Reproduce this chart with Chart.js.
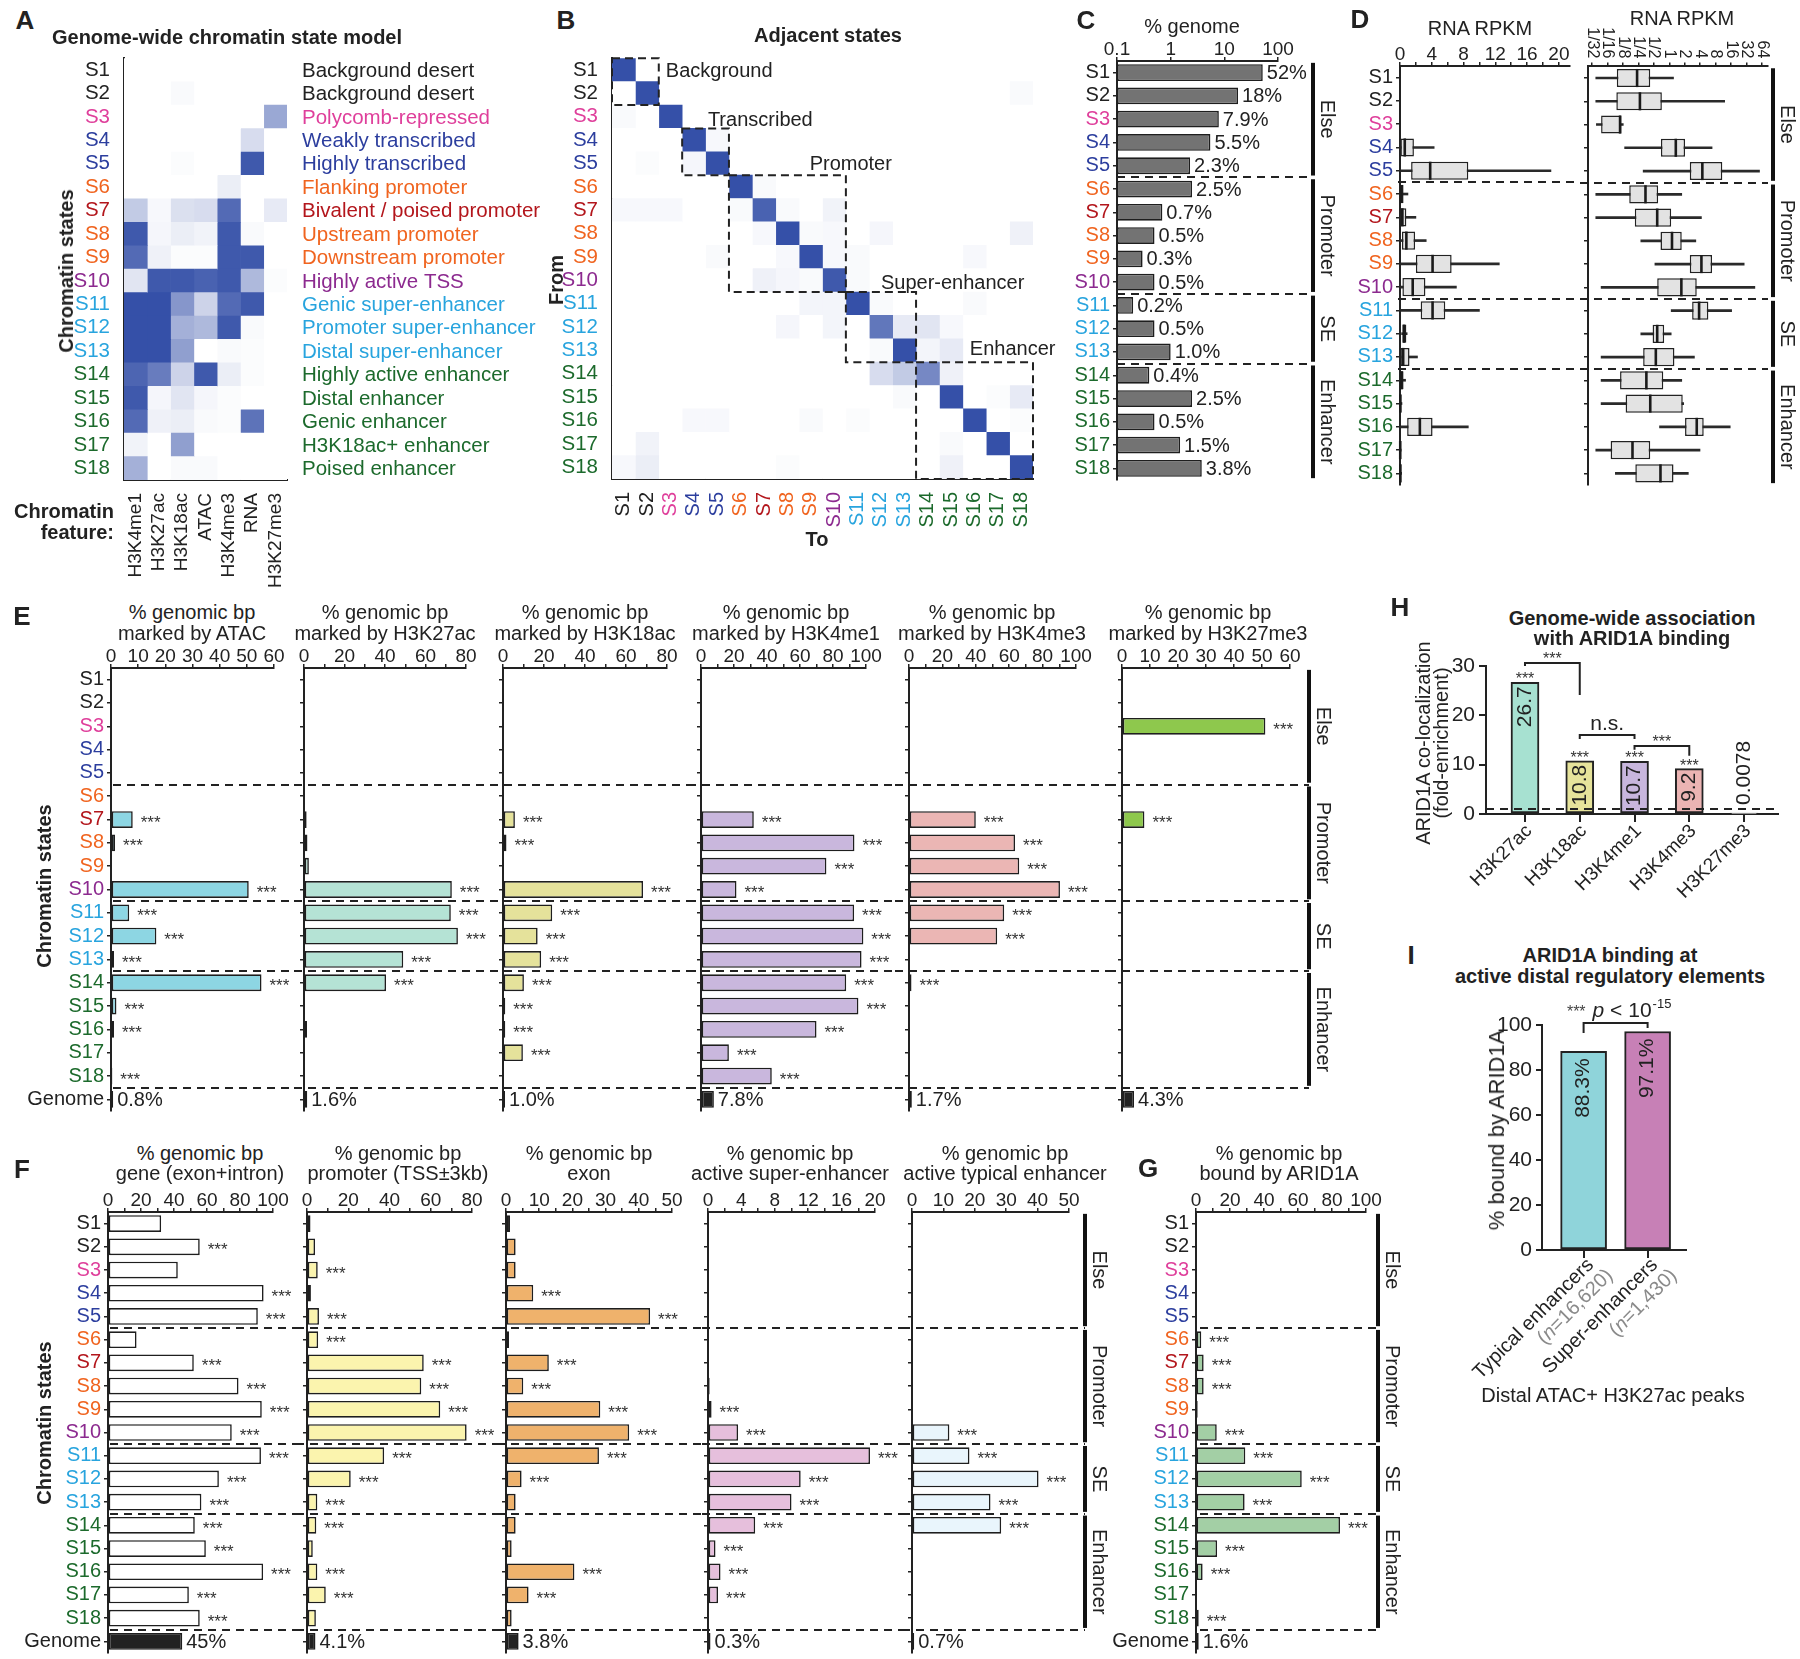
<!DOCTYPE html>
<html><head><meta charset="utf-8">
<script src="https://cdn.jsdelivr.net/npm/chart.js@4.4.1/dist/chart.umd.min.js"></script>
<style>
html,body{margin:0;padding:0;background:#fff;}
#fig{position:relative;width:1800px;height:1659px;overflow:hidden;background:#fff;}
#fig canvas{position:absolute;}
</style></head><body><div id="fig"></div>
<script>
// ================= DATA =================
const states = ['S1','S2','S3','S4','S5','S6','S7','S8','S9','S10','S11','S12','S13','S14','S15','S16','S17','S18'];
const stateColors = ['#222','#222','#df3f9b','#2c3e9e','#2c3e9e','#f0641f','#b3161c','#f0641f','#f0641f','#8c2a8f','#28a4de','#28a4de','#28a4de','#1c6a2c','#1c6a2c','#1c6a2c','#1c6a2c','#1c6a2c'];
const stateNames = ['Background desert','Background desert','Polycomb-repressed','Weakly transcribed','Highly transcribed','Flanking promoter','Bivalent / poised promoter','Upstream promoter','Downstream promoter','Highly active TSS','Genic super-enhancer','Promoter super-enhancer','Distal super-enhancer','Highly active enhancer','Distal enhancer','Genic enhancer','H3K18ac+ enhancer','Poised enhancer'];
const groupNames = ['Else','Promoter','SE','Enhancer'];
const groupRows = [[0,4],[5,9],[10,12],[13,17]];

// A: emission heatmap (rows S1..S18, columns = features)
const featuresA = ['H3K4me1','H3K27ac','H3K18ac','ATAC','H3K4me3','RNA','H3K27me3'];
const emissionA = [
 [0,0,0,0,0,0,0],
 [0,0,0.03,0,0,0,0],
 [0,0,0,0,0,0,0.5],
 [0,0,0,0,0,0.2,0],
 [0,0,0.02,0,0,0.95,0],
 [0,0,0,0,0.1,0,0],
 [0.3,0.04,0.18,0.2,0.85,0,0.12],
 [0.95,0.05,0.1,0.07,0.95,0.03,0],
 [0.85,0.08,0.02,0.02,0.95,0.95,0],
 [0.15,0.95,0.95,0.9,0.95,0.4,0.02],
 [1,1,0.6,0.25,0.85,0.95,0],
 [1,1,0.45,0.4,0.95,0.03,0],
 [1,1,0.55,0,0.03,0.02,0],
 [0.88,0.75,0.25,0.95,0.1,0.02,0],
 [0.95,0.05,0.15,0.05,0.02,0,0],
 [0.85,0.08,0.1,0.03,0.02,0.8,0],
 [0.07,0,0.55,0,0,0,0],
 [0.45,0,0.03,0.03,0,0,0]
];

// B: transitions between adjacent states (from row -> to column)
const transitionB = [
 [1,0,0,0,0,0,0,0,0,0,0,0,0,0,0,0,0,0],
 [0,1,0,0,0,0,0,0,0,0,0,0,0,0,0,0,0,0.03],
 [0.03,0,1,0,0,0,0,0,0,0,0,0,0,0,0,0,0,0],
 [0,0,0,1,0.04,0,0,0,0,0,0,0,0,0,0,0,0,0],
 [0,0.02,0,0.05,1,0,0,0,0,0,0,0,0,0,0,0,0,0],
 [0,0,0,0,0,1,0.03,0,0,0,0,0,0,0,0,0,0,0],
 [0.04,0.04,0.04,0,0,0.03,0.9,0.03,0,0.07,0,0,0,0,0,0,0,0],
 [0,0,0,0,0,0,0.04,1,0.03,0.04,0,0.05,0,0,0,0,0,0.08],
 [0,0,0,0,0.03,0,0,0.04,1,0.04,0.03,0,0,0,0,0.04,0,0],
 [0,0,0,0,0,0,0.08,0.05,0.03,0.95,0.03,0,0,0,0,0,0,0],
 [0,0,0,0,0,0,0,0,0.06,0.06,1,0.03,0,0,0,0.03,0,0],
 [0,0,0,0,0,0,0,0.05,0,0.06,0,0.78,0.12,0.15,0.04,0,0,0],
 [0,0,0,0,0,0,0,0,0,0,0,0.03,1,0.06,0.12,0,0,0],
 [0,0,0,0,0,0,0,0,0,0,0,0.2,0.3,0.68,0.08,0,0,0],
 [0,0,0,0,0,0,0,0,0,0,0,0,0.03,0,1,0,0.02,0.12],
 [0,0,0,0.04,0.04,0,0,0,0.03,0,0.02,0,0,0,0,1,0,0.02],
 [0,0.07,0,0,0,0,0,0,0,0,0,0,0,0,0.03,0,1,0],
 [0.04,0.1,0,0,0,0,0,0.02,0,0,0,0,0,0,0.08,0,0,1]
];
const boxesB = [
 {name:'Background', r0:0, r1:2, lx:2.3, ly:0},
 {name:'Transcribed', r0:3, r1:5, lx:4.1, ly:2.1},
 {name:'Promoter', r0:5, r1:10, lx:8.45, ly:4.0},
 {name:'Super-enhancer', r0:10, r1:13, lx:11.5, ly:9.1},
 {name:'Enhancer', r0:13, r1:18, lx:15.3, ly:11.9}
];

// C: % genome per state
const genomePct = [52,18,7.9,5.5,2.3,2.5,0.7,0.5,0.3,0.5,0.2,0.5,1.0,0.4,2.5,0.5,1.5,3.8];
const genomeTicks = [0.1,1,10,100];

// D: RNA RPKM box stats [whiskerLow, q1, median, q3, whiskerHigh]
const rnaLinear = [null,null,null,
 [0,0.05,0.6,1.75,4.3],[0,1.4,3.8,8.6,19],[0,0.02,0.2,0.45,1.0],[0,0.05,0.3,0.8,2.0],[0,0.25,0.8,1.9,3.3],
 [0,2.0,4.1,6.5,12.5],[0,0.3,1.6,3.2,7.1],[0,2.6,4.1,5.7,10],[0.2,0.3,0.5,0.8,0.9],[0,0.05,0.4,1.2,2.2],
 [0,0.05,0.2,0.45,0.7],[0,0.02,0.05,0.15,0.25],[0,0.9,2.5,4.1,8.6],[0,0.01,0.03,0.08,0.15],[0,0.01,0.05,0.1,0.2]];
const rnaLog = [
 [0.037,0.095,0.236,0.426,1.21],[0.037,0.093,0.268,0.717,12.0],[0.038,0.047,0.11,0.117,0.127],
 [0.135,0.688,1.34,2.03,6.82],[0.31,2.51,4.41,10.8,57.3],[0.037,0.166,0.344,0.607,1.75],
 [0.037,0.213,0.582,1.09,4.23],[0.279,0.674,1.13,1.75,3.29],[0.525,2.51,4.23,6.82,28.8],
 [0.047,0.582,1.72,3.43,46.5],[1.09,2.79,3.81,5.78,16.4],[0.279,0.473,0.582,0.796,1.09],
 [0.047,0.31,0.547,1.26,3.09],[0.047,0.11,0.358,0.764,1.75],[0.047,0.141,0.426,1.83,1.91],
 [0.646,2.03,3.43,4.69,15.4],[0.037,0.072,0.192,0.426,3.97],[0.089,0.218,0.674,1.21,2.35]];
const rnaLinTicks = [0,2,4,6,8,10,12,14,16,18,20];
const rnaLinLabels = [0,4,8,12,16,20];
const rnaLogTicks = [1/32,1/16,1/8,1/4,1/2,1,2,4,8,16,32,64];
const rnaLogTickLabels = ['1/32','1/16','1/8','1/4','1/2','1','2','4','8','16','32','64'];

// E: % genomic bp marked by each mark (S1..S18), genome-wide value, significance
const atacPct  = [0,0,0,0,0,0,8.0,1.5,0,50.7,6.7,16.7,1.1,55.4,2.0,1.1,0,0.5];
const atacGenome = 0.8;
const atacSig  = [0,0,0,0,0,0,1,1,0,1,1,1,1,1,1,1,0,1];
const k27acPct = [0,0,0,0,0,0.3,1.3,1.7,2.4,73,72.5,76,49,40.5,0.2,1.5,0.2,0.1];
const k27acGenome = 1.6;
const k27acSig = [0,0,0,0,0,0,0,0,0,1,1,1,1,1,0,0,0,0];
const k18acPct = [0,0.5,0,0,0.3,0,5.8,1.7,0.5,68.3,24,16.9,18.6,10.2,1.1,1.1,9.7,0.3];
const k18acGenome = 1.0;
const k18acSig = [0,0,0,0,0,0,1,1,0,1,1,1,1,1,1,1,1,0];
const k4me1Pct = [0,0,0,0,0,0,32,93,76,21.5,92.8,98.4,97.3,88,95.4,70,16.9,42.9];
const k4me1Genome = 7.8;
const k4me1Sig = [0,0,0,0,0,0,1,1,1,1,1,1,1,1,1,1,1,1];
const k4me3Pct = [0,0,0,0,0,0,40,63.5,66,90.4,57,52.8,0,1.5,0,0,0,0];
const k4me3Genome = 1.7;
const k4me3Sig = [0,0,0,0,0,0,1,1,1,1,1,1,0,1,0,0,0,0];
const k27me3Pct = [0,0,51.2,0,0,0,8.0,0,0,0,0,0,0,0,0,0,0,0];
const k27me3Genome = 4.3;
const k27me3Sig = [0,0,1,0,0,0,1,0,0,0,0,0,0,0,0,0,0,0];

// F: % genomic bp in annotations
const genePct = [32.2,55.6,42.3,94.3,90.8,17.3,52,79.1,93.2,75,92.7,67.2,56.6,52.6,59.3,94,49,55.6];
const geneGenome = 45;
const geneSig = [0,1,0,1,1,0,1,1,1,1,1,1,1,1,1,1,1,1];
const promPct = [1.7,3.9,5.2,1.9,5.8,5.4,56.6,55.4,64.6,77.4,37.4,21.2,5.0,4.5,2.8,5.0,9.1,4.3];
const promGenome = 4.1;
const promSig = [0,0,1,0,1,1,1,1,1,1,1,1,1,1,0,1,1,0];
const exonPct = [1.2,2.9,2.9,8.2,43.4,0.9,12.9,5.2,28.4,37.1,28,4.7,2.9,2.9,1.7,20.6,6.8,1.7];
const exonGenome = 3.8;
const exonSig = [0,0,0,1,1,0,1,1,1,1,1,1,0,0,0,1,1,0];
const sePct = [0,0,0,0,0,0,0.1,0.2,0.43,3.6,19.4,11.1,10,5.65,0.9,1.5,1.2,0];
const seGenome = 0.3;
const seSig = [0,0,0,0,0,0,0,0,1,1,1,1,1,1,1,1,1,0];
const tePct = [0,0,0,0,0,0,0,0,0,11.9,18.3,40.3,25,28.4,0,0,0,0];
const teGenome = 0.7;
const teSig = [0,0,0,0,0,0,0,0,0,1,1,1,1,1,0,0,0,0];

// G: % genomic bp bound by ARID1A
const aridPct = [0,0,0,0,0,3.1,4.5,4.5,1.0,12.2,29,62.2,28.6,84.7,12.4,3.9,0,1.6];
const aridGenome = 1.6;
const aridSig = [0,0,0,0,0,1,1,1,0,1,1,1,1,1,1,1,0,1];

// H: ARID1A co-localization fold enrichment
const hCats = ['H3K27ac','H3K18ac','H3K4me1','H3K4me3','H3K27me3'];
const hVals = [26.7,10.8,10.7,9.2,0.0078];
const hSig = [1,1,1,1,0];
const hBrackets = [
 {a:0,b:1,top:30.6,la:30.0,lb:24.1,text:'***'},
 {a:1,b:2,top:16.0,la:15.2,lb:15.2,text:'n.s.'},
 {a:2,b:3,top:13.8,la:13.0,lb:11.8,text:'***'}
];

// I: ARID1A binding at distal elements
const iCats = ['Typical enhancers','Super-enhancers'];
const iN = ['16,620','1,430'];
const iVals = [88.3,97.1];
const iBracket = {top:100.9,left:96.4,right:98.7};

// ================= HELPERS =================
const FONT = "'Liberation Sans', Arial, Helvetica, sans-serif";
Chart.defaults.font.family = FONT;
Chart.defaults.font.size = 20;
Chart.defaults.color = '#222';
Chart.defaults.animation = false;
Chart.defaults.responsive = false;
Chart.defaults.maintainAspectRatio = false;
Chart.defaults.devicePixelRatio = 1;
Chart.defaults.events = [];
Chart.defaults.plugins.legend.display = false;
Chart.defaults.plugins.tooltip.enabled = false;

const fig = document.getElementById('fig');
function mkCanvas(x, y, w, h) {
  const c = document.createElement('canvas');
  c._x = Math.round(x); c._y = Math.round(y); c._w = Math.round(w); c._h = Math.round(h);
  c.width = c._w; c.height = c._h;
  c.style.left = c._x + 'px'; c.style.top = c._y + 'px';
  c.style.width = c._w + 'px'; c.style.height = c._h + 'px';
  fig.appendChild(c);
  return c;
}
// move / resize the canvas until the plot area sits where the reference has it
function fitArea(chart, want) {
  const cv = chart.canvas;
  for (let k = 0; k < 6; k++) {
    const a = chart.chartArea;
    const dl = cv._x + a.left - want.L, dr = want.R - (cv._x + a.right);
    const dt = cv._y + a.top - want.T, db = want.B - (cv._y + a.bottom);
    if (Math.max(Math.abs(dl), Math.abs(dr), Math.abs(dt), Math.abs(db)) < 0.8) return;
    cv._x = Math.round(cv._x - dl); cv._w = Math.round(cv._w + dl + dr);
    cv._y = Math.round(cv._y - dt); cv._h = Math.round(cv._h + dt + db);
    cv.style.left = cv._x + 'px'; cv.style.top = cv._y + 'px';
    chart.resize(cv._w, cv._h);
  }
}
function T(s, x, y, o = {}) {
  const d = document.createElement('div');
  d.textContent = s;
  const tx = o.align === 'left' ? '0' : (o.align === 'right' ? '-100%' : '-50%');
  d.style.cssText = `position:absolute;left:${x}px;top:${y}px;font:${o.bold ? 'bold' : 'normal'} ${o.size || 20}px ${FONT};color:${o.color || '#222'};white-space:nowrap;line-height:1;transform:translate(${tx},-50%)${o.rot ? ` rotate(${o.rot}deg)` : ''};`;
  fig.appendChild(d);
}
function heatColor(v) {
  const r = Math.round(255 + (53 - 255) * v), g = Math.round(255 + (80 - 255) * v), b = Math.round(255 + (168 - 255) * v);
  return `rgb(${r},${g},${b})`;
}
function drawStars(ctx, x, y, size, align) {
  ctx.save();
  ctx.font = `${size}px ${FONT}`; ctx.fillStyle = '#333';
  ctx.textAlign = align || 'left'; ctx.textBaseline = 'middle';
  ctx.fillText('***', x, y + 0.23 * size);
  ctx.restore();
}
const fmtPct = v => (v >= 10 ? String(v) : v.toFixed(1)) + '%';

// ---------- heatmap (stacked unit bars coloured by value) ----------
function heatmap(o) {
  const yw = o.L - o.cx, pt = o.T - o.cy, pr = o.cx + o.cw - o.R, xb = o.cy + o.ch - o.B;
  const cv = mkCanvas(o.cx, o.cy, o.cw, o.ch);
  const datasets = o.cols.map((c, j) => ({
    data: o.rows.map(() => 1),
    backgroundColor: o.rows.map((r, i) => heatColor(o.matrix[i][j])),
    borderWidth: 0, barPercentage: 1, categoryPercentage: 1, stack: 'h'
  }));
  const chart = new Chart(cv, {
    type: 'bar',
    data: { labels: o.rows, datasets },
    options: {
      indexAxis: 'y',
      layout: { padding: { left: 0, top: pt, right: pr, bottom: 0 } },
      scales: {
        x: {
          type: 'linear', stacked: true, min: 0, max: o.cols.length, position: 'bottom',
          afterBuildTicks: s => { s.ticks = o.cols.map((c, j) => ({ value: j + 0.5 })); },
          afterFit: s => { s.height = xb; },
          ticks: { autoSkip: false, minRotation: 90, maxRotation: 90, padding: 5, font: { size: o.colFont },
                   color: c => o.colColors[c.index], callback: (v, i) => o.cols[i] },
          grid: { display: false },
          border: { display: true, color: '#222', width: 2 }
        },
        y: {
          type: 'category', stacked: true,
          afterFit: s => { s.width = yw; },
          ticks: { autoSkip: false, padding: 6, font: { size: 20.5 }, color: c => stateColors[c.index] },
          grid: { display: false },
          border: { display: true, color: '#222', width: 2 }
        }
      }
    },
    plugins: [o.plugin]
  });
  fitArea(chart, { L: o.L, R: o.R, T: o.T, B: o.B });
  return chart;
}

// ---------- horizontal bar panel ----------
function decorate(chart, o) {
  const { ctx, scales: { x, y } } = chart;
  const ox = chart.canvas._x;
  const yp = i => y.getPixelForValue(i);
  ctx.save();
  if (o.seps) {
    ctx.setLineDash([8, 6]); ctx.lineWidth = 2; ctx.strokeStyle = '#222';
    o.seps.forEach(i => {
      const py = Math.round((yp(i) + yp(i + 1)) / 2);
      ctx.beginPath(); ctx.moveTo(o.sepX0 - ox, py); ctx.lineTo(o.sepX1 - ox, py); ctx.stroke();
    });
    ctx.setLineDash([]);
  }
  if (o.medians) {
    ctx.strokeStyle = '#1a1a1a'; ctx.lineWidth = 2.6;
    const h = o.rowH * 0.78 / 2;
    o.medians.forEach((m, i) => {
      if (m == null) return;
      const px = x.getPixelForValue(m);
      ctx.beginPath(); ctx.moveTo(px, yp(i) - h); ctx.lineTo(px, yp(i) + h); ctx.stroke();
    });
  }
  if (o.stars) o.stars.forEach((s, i) => { if (s) drawStars(ctx, x.getPixelForValue(o.data[i]) + 8, yp(i), 17); });
  if (o.valueText) {
    ctx.font = `20px ${FONT}`; ctx.fillStyle = '#222'; ctx.textAlign = 'left'; ctx.textBaseline = 'middle';
    o.valueText.forEach((t, i) => { if (t) ctx.fillText(t, x.getPixelForValue(o.data[i]) + 4, yp(i) + 1); });
  }
  if (o.groups) {
    groupRows.forEach(([r0, r1], k) => {
      const y0 = yp(r0) - o.rowH * 0.42, y1 = yp(r1) + o.rowH * 0.42;
      ctx.fillStyle = '#111';
      ctx.fillRect(o.groupX - ox - 2, y0, 4, y1 - y0);
      ctx.save();
      ctx.translate(o.groupX - ox + 14, (y0 + y1) / 2); ctx.rotate(Math.PI / 2);
      ctx.font = `20px ${FONT}`; ctx.fillStyle = '#222'; ctx.textAlign = 'center'; ctx.textBaseline = 'middle';
      ctx.fillText(groupNames[k], 0, 0);
      ctx.restore();
    });
  }
  if (o.topLabels) {
    ctx.font = `16px ${FONT}`; ctx.fillStyle = '#222'; ctx.textAlign = 'right'; ctx.textBaseline = 'middle';
    o.ticks.forEach((v, i) => {
      ctx.save(); ctx.translate(x.getPixelForValue(v), chart.chartArea.top - 8); ctx.rotate(Math.PI / 2);
      ctx.fillText(o.topLabels[i], 0, 0); ctx.restore();
    });
  }
  ctx.restore();
}
function hbars(o) {
  const xt = o.xt || 34, pb = 14;
  const n = o.labels.length;
  const cy = o.areaT - xt;
  const ch = Math.ceil(xt + n * o.rowH + pb);
  const yw = o.areaL - o.cx;
  const pr = o.cx + o.cw - o.areaR;
  const cv = mkCanvas(o.cx, cy, o.cw, ch);
  const labelSet = new Set(o.labelTicks || o.ticks);
  const datasets = o.datasets || [{
    data: o.data, backgroundColor: o.colors, borderColor: '#1e1e1e', borderWidth: 1.6,
    borderSkipped: false, barPercentage: o.barPct || 0.72, categoryPercentage: 1
  }];
  const chart = new Chart(cv, {
    type: 'bar',
    data: { labels: o.labels, datasets },
    options: {
      indexAxis: 'y',
      layout: { padding: { left: 0, right: pr, top: 0, bottom: pb } },
      scales: {
        x: {
          type: o.log ? 'logarithmic' : 'linear', position: 'top', min: o.xmin, max: o.xmax,
          afterBuildTicks: s => { s.ticks = o.ticks.map(v => ({ value: v })); },
          afterFit: s => { s.height = xt; },
          ticks: { autoSkip: false, maxRotation: 0, minRotation: 0, padding: -4, font: { size: 19 }, color: '#222',
                   callback: v => (o.topLabels ? '' : (labelSet.has(v) ? (o.fmt ? o.fmt(v) : String(v)) : '')) },
          grid: { display: true, drawOnChartArea: false, drawTicks: true, tickLength: 4, color: '#222', lineWidth: 1.5 },
          border: { display: true, color: '#222', width: 2 }
        },
        y: {
          type: 'category', position: 'left',
          afterFit: s => { s.width = yw; },
          ticks: { display: !!o.showY, autoSkip: false, padding: 3, font: { size: 20 }, color: c => (o.yColors ? o.yColors[c.index] : '#222') },
          grid: { display: true, drawOnChartArea: false, drawTicks: true, tickLength: 4, color: '#222', lineWidth: 1.5, offset: false },
          border: { display: true, color: '#222', width: 2 }
        }
      }
    },
    plugins: [{ id: 'deco', afterDatasetsDraw: chart => decorate(chart, o) }]
  });
  fitArea(chart, { L: o.areaL, R: o.areaR, T: o.areaT, B: o.areaT + n * o.rowH });
  return chart;
}

// ================= PANEL A =================
heatmap({
  cx: 0, cy: 40, cw: 590, ch: 550, L: 124, T: 58, R: 287, B: 480,
  rows: states, cols: featuresA, matrix: emissionA, colFont: 19, colColors: featuresA.map(() => '#222'),
  plugin: { id: 'descA', afterDraw(chart) {
    const { ctx, chartArea: a, scales: { y } } = chart;
    ctx.save(); ctx.font = `20.5px ${FONT}`; ctx.textAlign = 'left'; ctx.textBaseline = 'middle';
    stateNames.forEach((s, i) => { ctx.fillStyle = stateColors[i]; ctx.fillText(s, a.right + 15, y.getPixelForValue(i) + 1); });
    ctx.restore();
  } }
});

// ================= PANEL B =================
heatmap({
  cx: 540, cy: 40, cw: 535, ch: 530, L: 612, T: 58, R: 1033, B: 479,
  rows: states, cols: states, matrix: transitionB, colFont: 20, colColors: stateColors,
  plugin: { id: 'boxesB', afterDraw(chart) {
    const { ctx, scales: { x, y } } = chart;
    ctx.save(); ctx.setLineDash([8, 5]); ctx.lineWidth = 2; ctx.strokeStyle = '#222';
    boxesB.forEach(b => {
      const x0 = x.getPixelForValue(b.r0), x1 = x.getPixelForValue(b.r1);
      const y0 = y.getPixelForValue(b.r0 - 0.5), y1 = y.getPixelForValue(b.r1 - 0.5);
      ctx.strokeRect(x0, y0, x1 - x0, y1 - y0);
    });
    ctx.setLineDash([]);
    ctx.font = `20px ${FONT}`; ctx.fillStyle = '#222'; ctx.textAlign = 'left'; ctx.textBaseline = 'middle';
    boxesB.forEach(b => ctx.fillText(b.name, x.getPixelForValue(b.lx), y.getPixelForValue(b.ly) + 1));
    ctx.restore();
  } }
});

// ================= PANEL C =================
hbars({
  cx: 1065, cw: 280, areaL: 1117, areaR: 1278, areaT: 60.5, rowH: 23.3, xt: 40,
  labels: states, data: genomePct, colors: genomePct.map(() => '#737373'), showY: true, yColors: stateColors,
  log: true, xmin: 0.1, xmax: 100, ticks: genomeTicks, fmt: v => String(v),
  valueText: genomePct.map(fmtPct), seps: [4, 9, 12], sepX0: 1117, sepX1: 1312, groups: true, groupX: 1313
});

// ================= PANEL D =================
hbars({
  cx: 1340, cw: 240, areaL: 1400, areaR: 1570, areaT: 66.4, rowH: 23.25, xt: 46,
  labels: states, showY: true, yColors: stateColors,
  xmin: 0, xmax: 21.4, ticks: rnaLinTicks, labelTicks: rnaLinLabels,
  datasets: [
    { data: rnaLinear.map(b => b ? [b[0], b[4]] : null), backgroundColor: '#2a2a2a', borderWidth: 0, barThickness: 2, grouped: false, order: 2 },
    { data: rnaLinear.map(b => b ? [b[1], b[3]] : null), backgroundColor: '#e3e3e3', borderColor: '#222', borderWidth: 1.5, borderSkipped: false, barPercentage: 0.78, categoryPercentage: 1, grouped: false, order: 1 }
  ],
  medians: rnaLinear.map(b => b ? b[2] : null),
  seps: [4, 9, 12], sepX0: 1398, sepX1: 1580
});
hbars({
  cx: 1580, cw: 220, areaL: 1588, areaR: 1768, areaT: 66.4, rowH: 23.25, xt: 66.4,
  labels: states, showY: false,
  log: true, xmin: Math.pow(2, -5.26), xmax: Math.pow(2, 6.39), ticks: rnaLogTicks, topLabels: rnaLogTickLabels,
  datasets: [
    { data: rnaLog.map(b => [b[0], b[4]]), backgroundColor: '#2a2a2a', borderWidth: 0, barThickness: 2, grouped: false, order: 2 },
    { data: rnaLog.map(b => [b[1], b[3]]), backgroundColor: '#e3e3e3', borderColor: '#222', borderWidth: 1.5, borderSkipped: false, barPercentage: 0.78, categoryPercentage: 1, grouped: false, order: 1 }
  ],
  medians: rnaLog.map(b => b[2]),
  seps: [4, 9, 12], sepX0: 1580, sepX1: 1768, groups: true, groupX: 1773
});

// ================= PANELS E, F, G =================
const rowLabels = states.concat(['Genome']);
const rowColors = stateColors.concat(['#222']);
function markPanel(p) {
  const data = p.vals.concat([p.genome]);
  hbars({
    cx: p.cx, cw: p.cw, areaL: p.L, areaR: p.R, areaT: p.T, rowH: p.rowH,
    labels: rowLabels, data, colors: p.vals.map(() => p.color).concat(['#222']),
    showY: !!p.showY, yColors: rowColors,
    xmin: 0, xmax: p.max, ticks: p.ticks, labelTicks: p.lab,
    stars: p.sig, valueText: p.vals.map(() => null).concat([fmtPct(p.genome)]),
    seps: [4, 9, 12, 17], sepX0: p.sx0, sepX1: p.sx1, groups: !!p.groups, groupX: p.gx
  });
  T('% genomic bp', p.tc, p.ty1);
  T(p.title, p.tc, p.ty2);
}
const r10 = m => Array.from({ length: m / 10 + 1 }, (_, i) => i * 10);
const ET = 668.4, ER = 23.3;
markPanel({ title: 'marked by ATAC', vals: atacPct, genome: atacGenome, sig: atacSig, color: '#8dd6e3', max: 60, ticks: r10(60), lab: r10(60), L: 111, R: 274, cx: 10, cw: 284, showY: true, sx0: 113, sx1: 294, T: ET, rowH: ER, tc: 192, ty1: 612, ty2: 633 });
markPanel({ title: 'marked by H3K27ac', vals: k27acPct, genome: k27acGenome, sig: k27acSig, color: '#b5e3d5', max: 80, ticks: r10(80), lab: [0,20,40,60,80], L: 304, R: 466, cx: 294, cw: 196, sx0: 294, sx1: 490, T: ET, rowH: ER, tc: 385, ty1: 612, ty2: 633 });
markPanel({ title: 'marked by H3K18ac', vals: k18acPct, genome: k18acGenome, sig: k18acSig, color: '#e5e29b', max: 80, ticks: r10(80), lab: [0,20,40,60,80], L: 503, R: 667, cx: 490, cw: 198, sx0: 490, sx1: 688, T: ET, rowH: ER, tc: 585, ty1: 612, ty2: 633 });
markPanel({ title: 'marked by H3K4me1', vals: k4me1Pct, genome: k4me1Genome, sig: k4me1Sig, color: '#c9b7dd', max: 100, ticks: r10(100), lab: [0,20,40,60,80,100], L: 701, R: 866, cx: 688, cw: 207, sx0: 688, sx1: 895, T: ET, rowH: ER, tc: 786, ty1: 612, ty2: 633 });
markPanel({ title: 'marked by H3K4me3', vals: k4me3Pct, genome: k4me3Genome, sig: k4me3Sig, color: '#ebb6b4', max: 100, ticks: r10(100), lab: [0,20,40,60,80,100], L: 909, R: 1076, cx: 895, cw: 213, sx0: 895, sx1: 1108, T: ET, rowH: ER, tc: 992, ty1: 612, ty2: 633 });
markPanel({ title: 'marked by H3K27me3', vals: k27me3Pct, genome: k27me3Genome, sig: k27me3Sig, color: '#8ec84d', max: 60, ticks: r10(60), lab: r10(60), L: 1122, R: 1290, cx: 1108, cw: 237, sx0: 1108, sx1: 1309, groups: true, gx: 1309, T: ET, rowH: ER, tc: 1208, ty1: 612, ty2: 633 });

const FT = 1212.4, FR = 23.2;
markPanel({ title: 'gene (exon+intron)', vals: genePct, genome: geneGenome, sig: geneSig, color: '#ffffff', max: 100, ticks: r10(100), lab: [0,20,40,60,80,100], L: 108, R: 273, cx: 10, cw: 286, showY: true, sx0: 110, sx1: 296, T: FT, rowH: FR, tc: 200, ty1: 1153, ty2: 1173 });
markPanel({ title: 'promoter (TSS\u00b13kb)', vals: promPct, genome: promGenome, sig: promSig, color: '#fbf4ae', max: 80, ticks: r10(80), lab: [0,20,40,60,80], L: 307, R: 472, cx: 296, cw: 201, sx0: 296, sx1: 497, T: FT, rowH: FR, tc: 398, ty1: 1153, ty2: 1173 });
markPanel({ title: 'exon', vals: exonPct, genome: exonGenome, sig: exonSig, color: '#efb26c', max: 50, ticks: [0,5,10,15,20,25,30,35,40,45,50], lab: [0,10,20,30,40,50], L: 506, R: 672, cx: 497, cw: 205, sx0: 497, sx1: 702, T: FT, rowH: FR, tc: 589, ty1: 1153, ty2: 1173 });
markPanel({ title: 'active super-enhancer', vals: sePct, genome: seGenome, sig: seSig, color: '#e6bfdc', max: 20, ticks: [0,2,4,6,8,10,12,14,16,18,20], lab: [0,4,8,12,16,20], L: 708, R: 875, cx: 702, cw: 200, sx0: 702, sx1: 902, T: FT, rowH: FR, tc: 790, ty1: 1153, ty2: 1173 });
markPanel({ title: 'active typical enhancer', vals: tePct, genome: teGenome, sig: teSig, color: '#e9f5fc', max: 50, ticks: r10(50), lab: r10(50), L: 912, R: 1069, cx: 902, cw: 208, sx0: 902, sx1: 1085, groups: true, gx: 1085, T: FT, rowH: FR, tc: 1005, ty1: 1153, ty2: 1173 });
markPanel({ title: 'bound by ARID1A', vals: aridPct, genome: aridGenome, sig: aridSig, color: '#a3cfa5', max: 100, ticks: r10(100), lab: [0,20,40,60,80,100], L: 1196, R: 1366, cx: 1110, cw: 295, showY: true, sx0: 1200, sx1: 1378, groups: true, gx: 1378, T: FT, rowH: FR, tc: 1279, ty1: 1153, ty2: 1173 });

// ================= PANEL H =================
(function () {
  const cv = mkCanvas(1430, 640, 365, 274);
  const chart = new Chart(cv, {
    type: 'bar',
    data: { datasets: [{ data: hVals.map((v, i) => ({ x: i, y: v })), backgroundColor: ['#a7e1d1','#e6e39b','#c8b6dd','#ebb4b3','#ffffff'],
      borderColor: '#222', borderWidth: 2, borderSkipped: false, barThickness: 28 }] },
    options: {
      layout: { padding: { top: 26, right: 17, left: 0, bottom: 0 } },
      scales: {
        x: { type: 'linear', offset: false, min: -0.712, max: 4.62,
             afterBuildTicks: s => { s.ticks = hCats.map((c, i) => ({ value: i })); },
             afterFit: s => { s.height = 100; },
             ticks: { autoSkip: false, maxRotation: 0, minRotation: 0, callback: () => '' },
             grid: { drawOnChartArea: false, tickLength: 8, color: '#222', lineWidth: 2, offset: false },
             border: { color: '#222', width: 2 } },
        y: { min: 0, max: 30,
             afterBuildTicks: s => { s.ticks = [0, 10, 20, 30].map(v => ({ value: v })); },
             afterFit: s => { s.width = 56; },
             ticks: { font: { size: 21 }, padding: 4 },
             grid: { drawOnChartArea: false, tickLength: 7, color: '#222', lineWidth: 2 },
             border: { color: '#222', width: 2 } }
      }
    },
    plugins: [{ id: 'hdeco', afterDatasetsDraw(chart) {
      const { ctx, chartArea: a, scales: { x, y } } = chart;
      ctx.save();
      ctx.setLineDash([8, 6]); ctx.lineWidth = 2; ctx.strokeStyle = '#222';
      const y1 = y.getPixelForValue(1);
      ctx.beginPath(); ctx.moveTo(a.left, y1); ctx.lineTo(a.right, y1); ctx.stroke();
      ctx.setLineDash([]);
      hVals.forEach((v, i) => {
        const px = x.getPixelForValue(i), top = y.getPixelForValue(v);
        ctx.save(); ctx.font = `21px ${FONT}`; ctx.fillStyle = '#222'; ctx.textBaseline = 'middle';
        if (v > 3) { ctx.translate(px, top + 4); ctx.rotate(-Math.PI / 2); ctx.textAlign = 'right'; }
        else { ctx.translate(px, y.getPixelForValue(0) - 9); ctx.rotate(-Math.PI / 2); ctx.textAlign = 'left'; }
        ctx.fillText(String(v), 0, 0); ctx.restore();
        if (hSig[i]) drawStars(ctx, px, top - 6, 16, 'center');
        // category label under the axis, rotated 45 degrees
        ctx.save(); ctx.translate(px + 4, a.bottom + 14); ctx.rotate(-Math.PI / 4);
        ctx.font = `19px ${FONT}`; ctx.fillStyle = '#222'; ctx.textAlign = 'right'; ctx.textBaseline = 'middle';
        ctx.fillText(hCats[i], 0, 0); ctx.restore();
      });
      ctx.strokeStyle = '#222'; ctx.lineWidth = 2;
      hBrackets.forEach(b => {
        const xa = x.getPixelForValue(b.a), xb = x.getPixelForValue(b.b), yt = y.getPixelForValue(b.top);
        ctx.beginPath(); ctx.moveTo(xa, y.getPixelForValue(b.la)); ctx.lineTo(xa, yt); ctx.lineTo(xb, yt); ctx.lineTo(xb, y.getPixelForValue(b.lb)); ctx.stroke();
        if (b.text === '***') drawStars(ctx, (xa + xb) / 2, yt - 7, 16, 'center');
        else { ctx.font = `21px ${FONT}`; ctx.fillStyle = '#222'; ctx.textAlign = 'center'; ctx.textBaseline = 'alphabetic'; ctx.fillText(b.text, (xa + xb) / 2, yt - 5); }
      });
      ctx.restore();
    } }]
  });
  fitArea(chart, { L: 1486, R: 1778, T: 666, B: 814 });
})();

// ================= PANEL I =================
(function () {
  const cv = mkCanvas(1440, 995, 270, 390);
  const chart = new Chart(cv, {
    type: 'bar',
    data: { datasets: [{ data: iVals.map((v, i) => ({ x: i, y: v })), backgroundColor: ['#8fd4da', '#c780b6'],
      borderColor: '#222', borderWidth: 2, borderSkipped: false, barThickness: 46 }] },
    options: {
      layout: { padding: { top: 30, right: 24, left: 0, bottom: 0 } },
      scales: {
        x: { type: 'linear', offset: false, min: -0.65, max: 1.6,
             afterBuildTicks: s => { s.ticks = iCats.map((c, i) => ({ value: i })); },
             afterFit: s => { s.height = 135; },
             ticks: { autoSkip: false, maxRotation: 0, callback: () => '' },
             grid: { drawOnChartArea: false, tickLength: 8, color: '#222', lineWidth: 2, offset: false },
             border: { color: '#222', width: 2 } },
        y: { min: 0, max: 100,
             afterBuildTicks: s => { s.ticks = [0,10,20,30,40,50,60,70,80,90,100].map(v => ({ value: v })); },
             afterFit: s => { s.width = 102; },
             ticks: { font: { size: 21 }, padding: 4, callback: v => (v % 20 === 0 ? String(v) : '') },
             grid: { drawOnChartArea: false, tickLength: 6, color: '#222', lineWidth: 2 },
             border: { color: '#222', width: 2 } }
      }
    },
    plugins: [{ id: 'ideco', afterDatasetsDraw(chart) {
      const { ctx, chartArea: a, scales: { x, y } } = chart;
      ctx.save();
      iVals.forEach((v, i) => {
        const px = x.getPixelForValue(i), top = y.getPixelForValue(v);
        ctx.save(); ctx.translate(px, top + 7); ctx.rotate(-Math.PI / 2);
        ctx.font = `21px ${FONT}`; ctx.fillStyle = '#222'; ctx.textAlign = 'right'; ctx.textBaseline = 'middle';
        ctx.fillText(v.toFixed(1) + '%', 0, 0); ctx.restore();
      });
      const x0 = x.getPixelForValue(0), x1 = x.getPixelForValue(1), yt = y.getPixelForValue(iBracket.top);
      ctx.strokeStyle = '#222'; ctx.lineWidth = 2;
      ctx.beginPath(); ctx.moveTo(x0, y.getPixelForValue(iBracket.left)); ctx.lineTo(x0, yt); ctx.lineTo(x1, yt); ctx.lineTo(x1, y.getPixelForValue(iBracket.right)); ctx.stroke();
      const cm = (x0 + x1) / 2, base = yt - 6;
      ctx.textBaseline = 'alphabetic'; ctx.textAlign = 'right'; ctx.font = `16px ${FONT}`; ctx.fillStyle = '#444';
      ctx.fillText('***', cm - 30, base);
      ctx.textAlign = 'left'; ctx.fillStyle = '#222';
      let sx = cm - 23;
      ctx.font = `italic 21px ${FONT}`; ctx.fillText('p', sx, base); sx += ctx.measureText('p').width;
      ctx.font = `21px ${FONT}`; ctx.fillText(' < 10', sx, base); sx += ctx.measureText(' < 10').width;
      ctx.font = `13px ${FONT}`; ctx.fillText('-15', sx + 1, base - 9);
      iCats.forEach((c, i) => {
        const px = x.getPixelForValue(i);
        ctx.save(); ctx.translate(px + 7, a.bottom + 12); ctx.rotate(-Math.PI / 4);
        ctx.textBaseline = 'middle'; ctx.font = `20px ${FONT}`; ctx.fillStyle = '#222'; ctx.textAlign = 'right';
        ctx.fillText(c, 0, 0);
        const parts = [['(', `20px ${FONT}`], ['n', `italic 20px ${FONT}`], ['=' + iN[i] + ')', `20px ${FONT}`]];
        let w = 0; parts.forEach(p => { ctx.font = p[1]; w += ctx.measureText(p[0]).width; });
        let s2 = -w + 6; ctx.textAlign = 'left'; ctx.fillStyle = '#8a8a8a';
        parts.forEach(p => { ctx.font = p[1]; ctx.fillText(p[0], s2, 21); s2 += ctx.measureText(p[0]).width; });
        ctx.restore();
      });
      ctx.restore();
    } }]
  });
  fitArea(chart, { L: 1542, R: 1686, T: 1025, B: 1250 });
})();

// ================= TEXT =================
[['A',25,20],['B',566,20],['C',1086,20],['D',1360,19],['E',22,616],['F',22,1169],['G',1148,1168],['H',1400,607],['I',1411,955]]
  .forEach(([s, x, y]) => T(s, x, y, { bold: true, size: 26 }));
T('Genome-wide chromatin state model', 227, 37, { bold: true });
T('Adjacent states', 828, 35, { bold: true });
T('Genome-wide association', 1632, 618, { bold: true });
T('with ARID1A binding', 1632, 638, { bold: true });
T('ARID1A binding at', 1610, 955, { bold: true });
T('active distal regulatory elements', 1610, 976, { bold: true });
T('% genome', 1192, 26);
T('RNA RPKM', 1480, 28);
T('RNA RPKM', 1682, 18);
T('Chromatin states', 66, 271, { bold: true, rot: -90 });
T('Chromatin states', 44, 886, { bold: true, rot: -90 });
T('Chromatin states', 44, 1423, { bold: true, rot: -90 });
T('From', 556, 280, { bold: true, rot: -90 });
T('To', 817, 539, { bold: true });
T('Chromatin', 114, 511, { bold: true, align: 'right' });
T('feature:', 114, 532, { bold: true, align: 'right' });
T('ARID1A co-localization', 1423, 743, { rot: -90 });
T('(fold-enrichment)', 1441, 743, { rot: -90 });
T('% bound by ARID1A', 1497, 1130, { rot: -90, size: 22 });
T('Distal ATAC+ H3K27ac peaks', 1613, 1395);
</script></body></html>
